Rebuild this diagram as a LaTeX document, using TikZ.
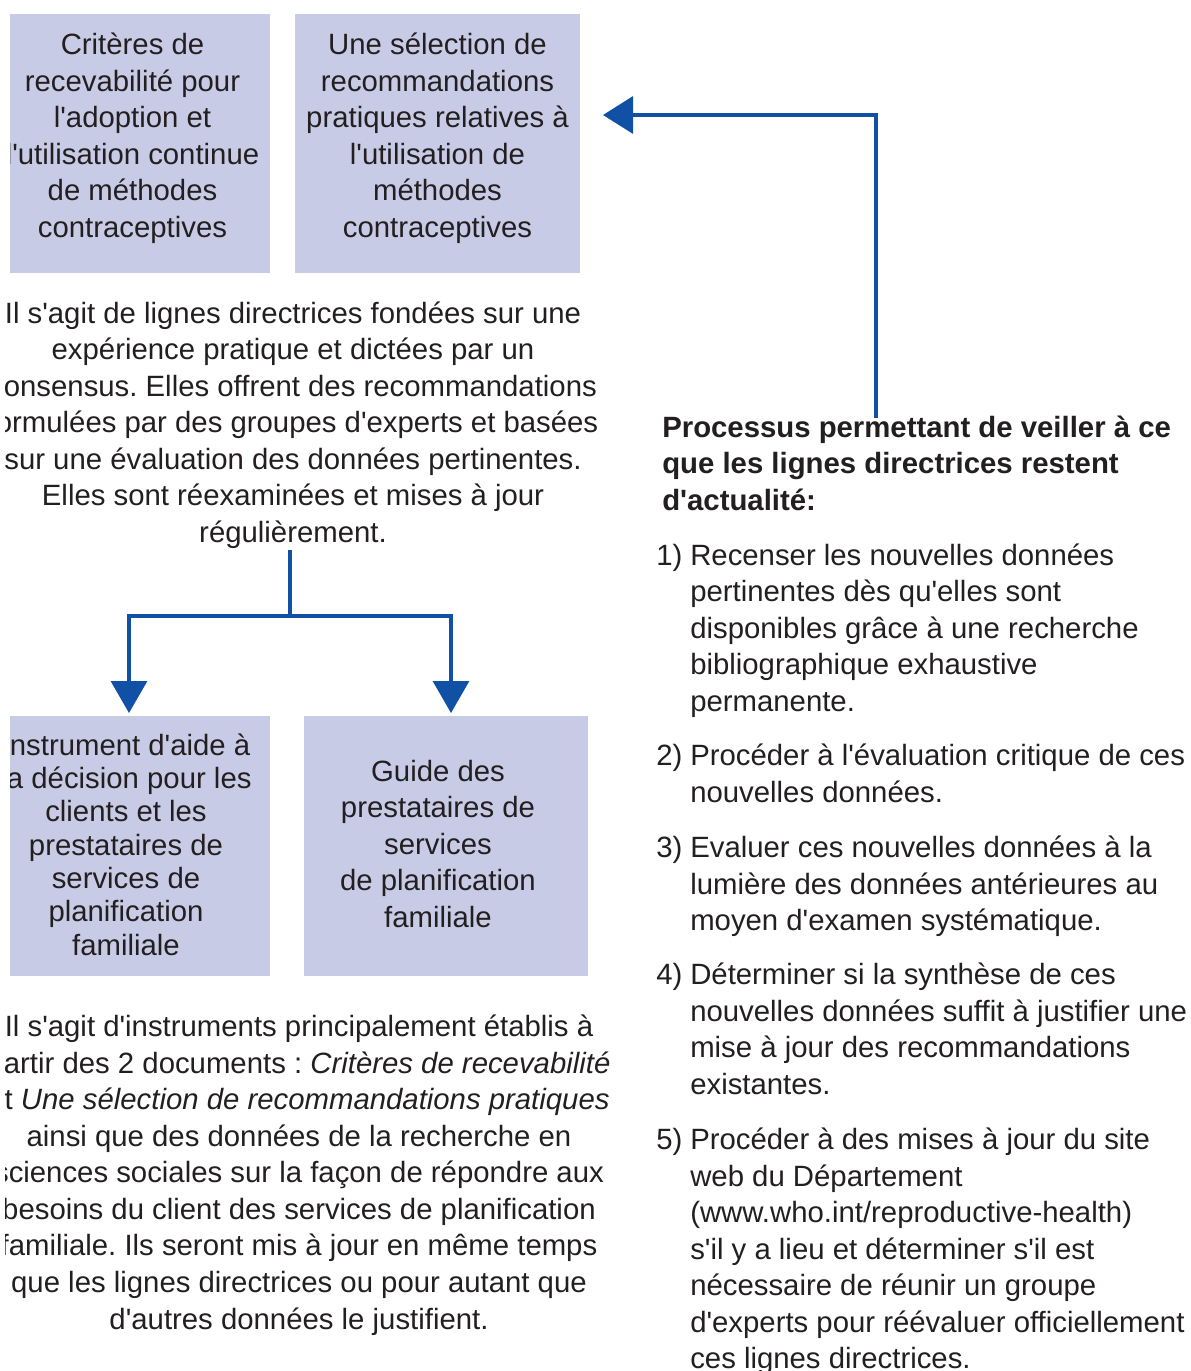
\documentclass[tikz,border=0pt]{standalone}
\usepackage{fontspec}
\setmainfont{Liberation Sans}[Ligatures=TeXOff]
\usetikzlibrary{arrows.meta}
\definecolor{boxfill}{RGB}{200,203,230}
\definecolor{linkblue}{RGB}{16,80,165}
\definecolor{textc}{RGB}{35,31,32}
\newcommand{\firstln}{\rule{0pt}{22.5pt}}
\frenchspacing
\begin{document}
\begin{tikzpicture}[x=0.75pt,y=-0.75pt,
  box/.style={fill=boxfill, draw=none, inner sep=0pt, anchor=north west},
  txt/.style={inner sep=0pt, anchor=north, align=center, text=textc,
    font=\fontsize{22pt}{27.4pt}\selectfont\frenchspacing},
  ltxt/.style={txt, anchor=north west, align=left},
  conn/.style={draw=linkblue, line width=2.4pt},
  tipA/.style={-{Triangle[length=24pt,width=27pt]}},
  tipB/.style={-{Triangle[length=22.5pt,width=27.75pt]}}]
\useasboundingbox (0,0) rectangle (1190,1371);
\fill[white] (0,0) rectangle (1190,1371);

% boxes
\node[box, minimum width=195pt, minimum height=194.25pt] (b1) at (10,14) {};
\node[box, minimum width=213.75pt, minimum height=194.25pt] (b2) at (295,14) {};
\node[box, minimum width=195pt, minimum height=195pt] (b3) at (10,716) {};
\node[box, minimum width=213pt, minimum height=195pt] (b4) at (304,716) {};

\begin{scope}
\clip (10,0) rectangle (1190,1371);
\node[txt] (b1t) at (132.5,24.5) {\firstln Critères de\\recevabilité pour\\l'adoption et\\l'utilisation continue\\de méthodes\\contraceptives};
\node[txt] (b2t) at (437.5,24.5) {\firstln Une sélection de\\recommandations\\pratiques relatives à\\l'utilisation de\\méthodes\\contraceptives};
\node[txt, font=\fontsize{22pt}{25pt}\selectfont] (b3t) at (126,725) {\firstln Instrument d'aide à\\la décision pour les\\clients et les\\prestataires de\\services de\\planification\\familiale};
\node[txt] (b4t) at (438,751) {\firstln Guide des\\prestataires de\\services\\de planification\\familiale};
\end{scope}

\begin{scope}
\clip (5.5,0) rectangle (1190,1371);
\node[txt] (p1) at (293,293) {\firstln Il s'agit de lignes directrices fondées sur une\\expérience pratique et dictées par un\\consensus. Elles offrent des recommandations\\formulées par des groupes d'experts et basées\\sur une évaluation des données pertinentes.\\Elles sont réexaminées et mises à jour\\régulièrement.};
\node[txt] (p2) at (299,1006.5) {\firstln Il s'agit d'instruments principalement établis à\\partir des 2 documents : \textit{Critères de recevabilité}\\et \textit{Une sélection de recommandations pratiques}\\ainsi que des données de la recherche en\\sciences sociales sur la façon de répondre aux\\besoins du client des services de planification\\familiale. Ils seront mis à jour en même temps\\que les lignes directrices ou pour autant que\\d'autres données le justifient.};
\end{scope}

% right column
\node[ltxt, font=\fontsize{22pt}{27.4pt}\selectfont\bfseries] (head) at (662,407) {\firstln Processus permettant de veiller à ce\\que les lignes directrices restent\\d'actualité:};
\node[ltxt] (n1) at (656,535) {\firstln 1)};
\node[ltxt] (t1) at (690,535) {\firstln Recenser les nouvelles données\\pertinentes dès qu'elles sont\\disponibles grâce à une recherche\\bibliographique exhaustive\\permanente.};
\node[ltxt] (n2) at (656,735.5) {\firstln 2)};
\node[ltxt] (t2) at (690,735.5) {\firstln Procéder à l'évaluation critique de ces\\nouvelles données.};
\node[ltxt] (n3) at (656,827.5) {\firstln 3)};
\node[ltxt] (t3) at (690,827.5) {\firstln Evaluer ces nouvelles données à la\\lumière des données antérieures au\\moyen d'examen systématique.};
\node[ltxt] (n4) at (656,954.5) {\firstln 4)};
\node[ltxt] (t4) at (690,954.5) {\firstln Déterminer si la synthèse de ces\\nouvelles données suffit à justifier une\\mise à jour des recommandations\\existantes.};
\node[ltxt] (n5) at (656,1119.5) {\firstln 5)};
\node[ltxt] (t5) at (690,1119.5) {\firstln Procéder à des mises à jour du site\\web du Département\\(www.who.int/reproductive-health)\\s'il y a lieu et déterminer s'il est\\nécessaire de réunir un groupe\\d'experts pour réévaluer officiellement\\ces lignes directrices.};

% connectors
\coordinate (cTopStart) at (876,418);
\coordinate (cTopTip) at (603,115);
\draw[conn, tipB] (cTopStart) |- (cTopTip);

\coordinate (cSplit) at (290,550);
\coordinate (cJoin) at (290,616);
\coordinate (cL) at (129,713);
\coordinate (cR) at (451,713);
\draw[conn] (cSplit) -- (cJoin);
\draw[conn, tipA] (cJoin) -| (cL);
\draw[conn, tipA] (cJoin) -| (cR);
\end{tikzpicture}
\end{document}
